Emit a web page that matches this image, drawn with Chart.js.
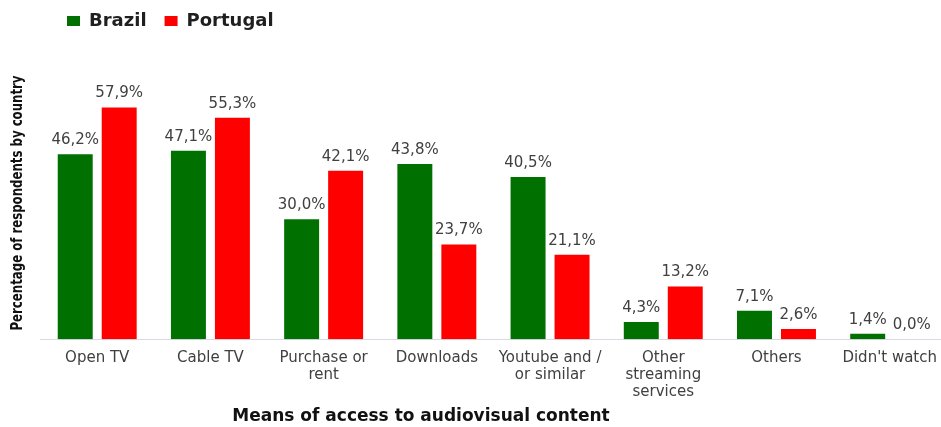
<!DOCTYPE html>
<html><head><meta charset="utf-8">
<script src="https://cdn.jsdelivr.net/npm/chart.js@4.4.1/dist/chart.umd.min.js"></script>
<style>
html,body{margin:0;padding:0;background:#fff;overflow:hidden}
#wrap{width:947px;height:427px;position:relative}
</style></head>
<body><div id="wrap"><canvas id="c"></canvas></div>
<script>
const categories = [["Open TV"],["Cable TV"],["Purchase or","rent"],["Downloads"],["Youtube and /","or similar"],["Other","streaming","services"],["Others"],["Didn't watch"]];
const seriesNames = ["Brazil","Portugal"];
const brazil = [46.2,47.1,30.0,43.8,40.5,4.3,7.1,1.4];
const portugal = [57.9,55.3,42.1,23.7,21.1,13.2,2.6,0.0];
const seriesColors = ["#007000","#ff0000"];
const xTitle = "Means of access to audiovisual content";
const yTitle = "Percentage of respondents by country";

const labelPlugin = {
  id: 'valueLabels',
  afterDatasetsDraw(chart) {
    const ctx = chart.ctx;
    ctx.save();
    ctx.font = '15px "DejaVu Sans", sans-serif';
    ctx.fillStyle = '#404040';
    ctx.textAlign = 'center';
    ctx.textBaseline = 'alphabetic';
    chart.data.datasets.forEach((ds, di) => {
      const meta = chart.getDatasetMeta(di);
      meta.data.forEach((bar, i) => {
        const v = ds.data[i];
        const txt = v.toFixed(1).replace('.', ',') + '%';
        ctx.fillText(txt, bar.x, bar.y - 10);
      });
    });
    ctx.restore();
  }
};

const titlePlugin = {
  id: 'axisTitles',
  afterLayout(chart) {
    if (chart.legend) { chart.legend.left = 49; chart.legend.top = -6; }
  },
  afterDraw(chart) {
    const ctx = chart.ctx;
    ctx.save();
    ctx.fillStyle = '#111';
    ctx.textAlign = 'center';
    ctx.textBaseline = 'middle';
    ctx.font = 'bold 17px "DejaVu Sans", sans-serif';
    ctx.fillText(xTitle, 421, 417);
    ctx.translate(18, 203);
    ctx.rotate(-Math.PI / 2);
    ctx.font = 'bold 15px "Liberation Sans Narrow", "DejaVu Sans Condensed", sans-serif';
    const w = ctx.measureText(yTitle).width;
    ctx.scale(255 / w, 1);
    ctx.fillText(yTitle, 0, 0);
    ctx.restore();
  }
};

new Chart(document.getElementById('c'), {
  type: 'bar',
  data: {
    labels: categories,
    datasets: [
      { label: seriesNames[0], data: brazil, backgroundColor: seriesColors[0], borderWidth: 0 },
      { label: seriesNames[1], data: portugal, backgroundColor: seriesColors[1], borderWidth: 0 }
    ]
  },
  options: {
    responsive: true,
    maintainAspectRatio: false,
    animation: false,
    layout: { padding: { top: 53, left: 0, right: 0, bottom: 0 } },
    datasets: { bar: { categoryPercentage: 0.777, barPercentage: 0.795 } },
    plugins: {
      legend: {
        position: 'top',
        align: 'start',
        labels: {
          boxWidth: 13, boxHeight: 10, padding: 18,
          color: '#1f1f1f',
          font: { family: '"DejaVu Sans", sans-serif', size: 18, weight: 'bold' }
        }
      },
      tooltip: { enabled: false }
    },
    scales: {
      x: {
        grid: { display: false, drawTicks: false },
        border: { display: true, color: '#d9d9e6', width: 1 },
        ticks: {
          autoSkip: false, maxRotation: 0, minRotation: 0, padding: 10,
          color: '#404040',
          font: { family: '"DejaVu Sans", sans-serif', size: 15, lineHeight: 1.15 }
        },
        afterFit(s) { s.height = 87.7; }
      },
      y: {
        min: 0, max: 60,
        grid: { display: false, drawTicks: false },
        border: { display: false },
        ticks: { display: false },
        afterFit(s) { s.width = 40.6; }
      }
    }
  },
  plugins: [labelPlugin, titlePlugin]
});
</script>
</body></html>
